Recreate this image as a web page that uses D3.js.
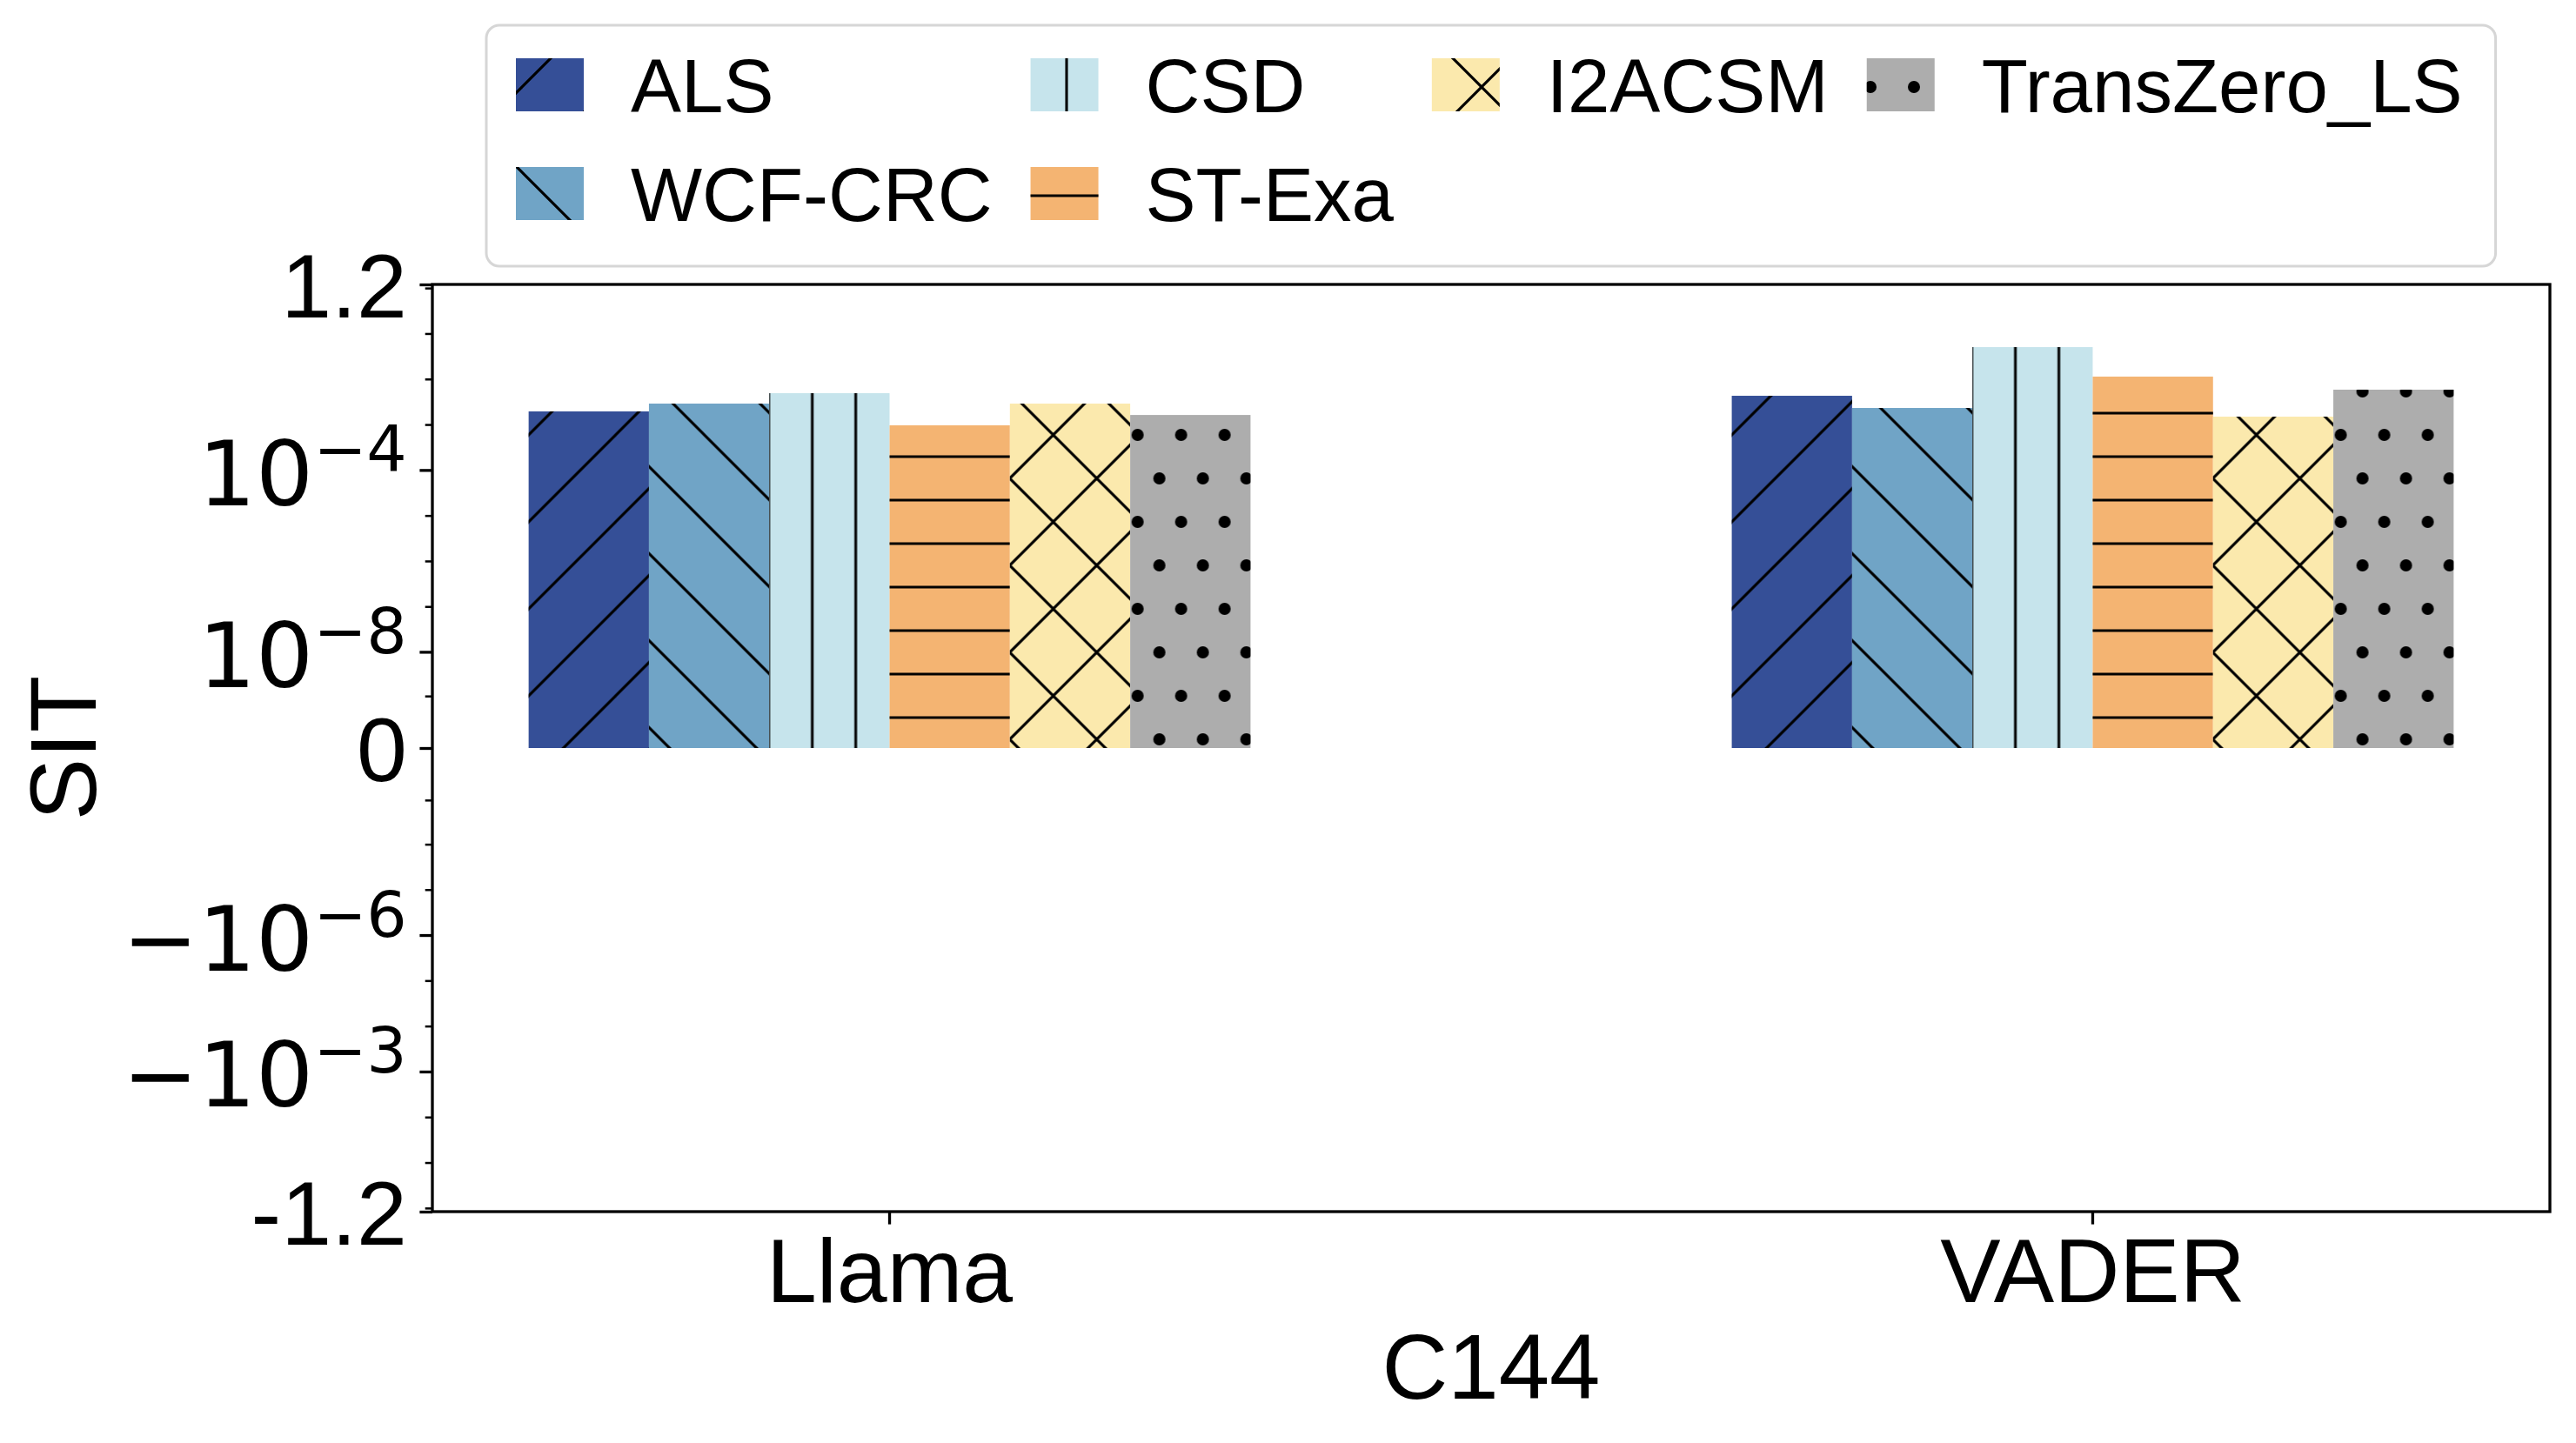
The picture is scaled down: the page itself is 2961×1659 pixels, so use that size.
<!DOCTYPE html>
<html>
<head>
<meta charset="utf-8">
<script src="https://cdn.jsdelivr.net/npm/d3@7"></script>
<style>
  body { margin: 0; background: #fff; }
  svg { display: block; }
</style>
</head>
<body>
<svg id="chart"></svg>
<script>
// data
const categories = ['Llama', 'VADER']
const methods = ['ALS', 'WCF-CRC', 'CSD', 'ST-Exa', 'I2ACSM', 'TransZero_LS']
const colors = ['#354f97', '#70a4c6', '#c6e4ec', '#f4b472', '#fbe9ad', '#adadad']
const hatches = ['/', '\\', '|', '-', 'x', '.']
const llamaValues = [1.94e-3, 2.88e-3, 4.88e-3, 9.6e-4, 2.88e-3, 1.62e-3]
const vaderValues = [4.28e-3, 2.31e-3, 5.03e-2, 1.13e-2, 1.49e-3, 5.83e-3]

const yTickValues = [-1.2, -1e-3, -1e-6, 0, 1e-8, 1e-4, 1.2]
const yTickLabels = [['-1.2', ''], ['\u221210', '\u22123'], ['\u221210', '\u22126'], ['0', ''],
                     ['10', '\u22128'], ['10', '\u22124'], ['1.2', '']]
const yMinorTicks = [-1, -1e-1, -1e-2, -1e-4, -1e-5, -1e-7, -1e-8, -1e-9,
                     1e-9, 1e-7, 1e-6, 1e-5, 1e-3, 1e-2, 1e-1, 1]

const W = 2961, H = 1659
const plot = { left: 497, right: 2931, top: 327, bottom: 1393 }
const sans = "'Liberation Sans', Arial, sans-serif"
const math = "'DejaVu Sans', sans-serif"

const svg = d3.select('#chart').attr('width', W).attr('height', H)
svg.append('rect').attr('width', W).attr('height', H).attr('fill', '#fff')

/** hatch patterns, anchored to page coordinates like matplotlib **/
const defs = svg.append('defs')
const hw = 3.1
const mkPattern = (id, w, h, dx, dy) => defs.append('pattern')
  .attr('id', id).attr('patternUnits', 'userSpaceOnUse')
  .attr('width', w).attr('height', h).attr('x', dx).attr('y', dy)

const hatchLines = (p, segs) => segs.forEach(s => p.append('line')
  .attr('x1', s[0]).attr('y1', s[1]).attr('x2', s[2]).attr('y2', s[3])
  .attr('stroke', '#000').attr('stroke-width', hw))

const nePath = [[-10, 10, 10, -10], [0, 100, 100, 0], [90, 110, 110, 90]]
const nwPath = [[-10, 90, 10, 110], [0, 0, 100, 100], [90, -10, 110, 10]]

hatchLines(mkPattern('h0', 100, 100, 0, 0), nePath)
hatchLines(mkPattern('h1', 100, 100, 2, 0), nwPath)
hatchLines(mkPattern('h2', 50, 50, 26, 0), [[0, -5, 0, 55], [50, -5, 50, 55]])
hatchLines(mkPattern('h3', 50, 50, 0, 25), [[-5, 0, 55, 0], [-5, 50, 55, 50]])
hatchLines(mkPattern('h4', 100, 100, 3, 0), nePath.concat(nwPath))
let dots = mkPattern('h5', 50, 100, 0, 0)
;[[0, 0], [50, 0], [0, 100], [50, 100], [25, 50]].forEach(c =>
  dots.append('circle').attr('cx', c[0]).attr('cy', c[1]).attr('r', 7).attr('fill', '#000'))

/** scales **/
const x = d3.scaleBand().domain(categories)
  .range([plot.left, plot.right]).paddingInner(0.4).paddingOuter(0.08)
const xInner = d3.scaleBand().domain(methods).range([0, x.bandwidth()])
const y = d3.scaleSymlog().constant(7.74e-11).domain([-1.2, 1.2])
  .range([plot.bottom, plot.top])

/** bars **/
const series = { Llama: llamaValues, VADER: vaderValues }
const groups = svg.append('g').selectAll('g')
  .data(categories).enter().append('g')
    .attr('transform', d => `translate(${x(d)}, 0)`)

groups.each((cat, i, g) => {
  const rows = methods.map((m, j) => ({ key: m, value: series[cat][j], idx: j }))
  const bars = d3.select(g[i]).selectAll('g').data(rows).enter().append('g')
  bars.append('rect')
    .attr('x', d => xInner(d.key)).attr('width', xInner.bandwidth())
    .attr('y', d => y(d.value)).attr('height', d => y(0) - y(d.value))
    .attr('fill', d => colors[d.idx])
  bars.append('rect')
    .attr('x', d => xInner(d.key)).attr('width', xInner.bandwidth())
    .attr('y', d => y(d.value)).attr('height', d => y(0) - y(d.value))
    .attr('fill', d => `url(#h${d.idx})`)
})

/** axes **/
const major = 14.6, minor = 8.3, lw = 3.3

const yMinor = svg.append('g').attr('transform', `translate(${plot.left}, 0)`)
  .call(d3.axisLeft(y).tickValues(yMinorTicks).tickSize(minor).tickFormat(''))
yMinor.select('.domain').remove()
yMinor.selectAll('line').attr('stroke-width', 2.5)

const yAxis = svg.append('g').attr('transform', `translate(${plot.left}, 0)`)
  .call(d3.axisLeft(y).tickValues(yTickValues).tickSize(major).tickPadding(major))
yAxis.select('.domain').remove()
yAxis.selectAll('line').attr('stroke-width', lw)
yAxis.selectAll('.tick text').each(function (d, i) {
  const lab = yTickLabels[i]
  const t = d3.select(this).text('').attr('dy', null).attr('fill', '#000')
  if (lab[1] === '') {
    t.attr('y', 37).style('font-family', sans).style('font-size', '104px').text(lab[0])
  } else {
    t.attr('y', 40).style('font-family', math).style('font-size', '104px')
    t.append('tspan').text(lab[0])
    t.append('tspan').attr('dy', -39).style('font-size', '73px').text(lab[1])
  }
})

const xAxis = svg.append('g').attr('transform', `translate(0, ${plot.bottom})`)
  .call(d3.axisBottom(x).tickSize(major))
xAxis.select('.domain').remove()
xAxis.selectAll('line').attr('stroke-width', lw)
xAxis.selectAll('.tick text')
  .attr('y', 104).attr('dy', null).attr('fill', '#000')
  .style('font-family', sans).style('font-size', '104px')

// frame
svg.append('rect')
  .attr('x', plot.left).attr('y', plot.top)
  .attr('width', plot.right - plot.left).attr('height', plot.bottom - plot.top)
  .attr('fill', 'none').attr('stroke', '#000').attr('stroke-width', lw)

// axis labels
svg.append('text').text('C144')
  .attr('x', (plot.left + plot.right) / 2).attr('y', 1608)
  .attr('text-anchor', 'middle')
  .style('font-family', sans).style('font-size', '105px')
svg.append('text').text('SIT')
  .attr('transform', `translate(110, ${(plot.top + plot.bottom) / 2}) rotate(-90)`)
  .attr('text-anchor', 'middle')
  .style('font-family', sans).style('font-size', '107px')

/** legend (4 columns, filled column by column) **/
const legendCols = [[0, 1], [2, 3], [4], [5]]
const leg = svg.append('g')
const box = leg.append('rect')
let cx = 593
legendCols.forEach(col => {
  let wMax = 0
  col.forEach((idx, r) => {
    const py = 67 + r * 125
    leg.append('rect').attr('x', cx).attr('y', py).attr('width', 78).attr('height', 61)
      .attr('fill', colors[idx])
    leg.append('rect').attr('x', cx).attr('y', py).attr('width', 78).attr('height', 61)
      .attr('fill', `url(#h${idx})`)
    const t = leg.append('text').text(methods[idx])
      .attr('x', cx + 132).attr('y', 129 + r * 125)
      .style('font-family', sans).style('font-size', '87px')
    wMax = Math.max(wMax, t.node().getComputedTextLength())
  })
  cx += 132 + wMax + 44
})
box.attr('x', 559).attr('y', 29).attr('width', cx - 44 + 38 - 559).attr('height', 277)
  .attr('rx', 15).attr('fill', '#fff').attr('stroke', '#d6d6d6').attr('stroke-width', 3)
</script>
</body>
</html>
